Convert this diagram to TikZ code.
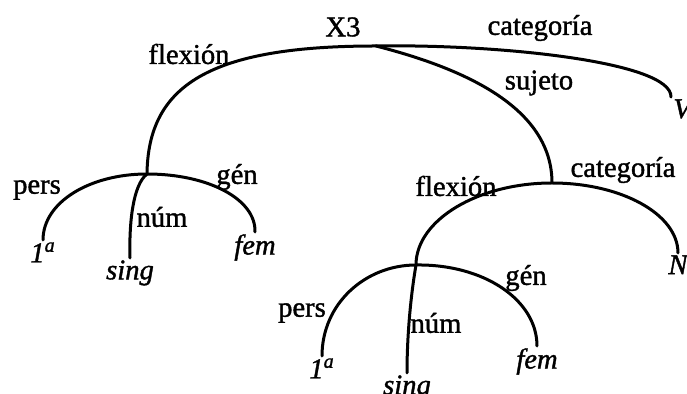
\documentclass[tikz,border=0pt]{standalone}
\usepackage{fontspec}
\setmainfont{Liberation Serif}[
  BoldFont={Liberation Serif}, BoldFeatures={FakeBold=1.3},
  BoldItalicFont={Liberation Serif Italic}, BoldItalicFeatures={FakeBold=1.3}]
\usepackage{tikz}
\usetikzlibrary{positioning}
\tikzstyle{feat} = [inner sep=1pt, font=\fontsize{14.3}{16}\selectfont\bfseries]
\tikzstyle{val} = [inner sep=1pt, font=\fontsize{14.3}{16}\selectfont\bfseries\itshape]
\tikzstyle{branch} = [draw, line width=1.5pt, line cap=round]

\begin{document}
\begin{tikzpicture}[x=0.5pt, y=-0.5pt]
    \useasboundingbox (0,0) rectangle (687,394);
    % Branch points
    \coordinate (top) at (376,46);
    \coordinate (flexA) at (147,174);
    \coordinate (subj) at (552,183);
    \coordinate (flexB) at (416,265);

    % Feature labels
    \node [feat] (x3) at (343,27) {X3};
    \node [feat] (flexAlab) at (189,54) {flexión};
    \node [feat] (catAlab) at (540,28) {categoría};
    \node [feat] (subjlab) at (539,83) {sujeto};
    \node [feat] (persAlab) at (37,190) {pers};
    \node [feat] (numAlab) at (162,217) {núm};
    \node [feat] (genAlab) at (237,177) {gén};
    \node [feat] (flexBlab) at (456,186) {flexión};
    \node [feat] (catBlab) at (623,170) {categoría};
    \node [feat] (persBlab) at (302,313) {pers};
    \node [feat] (numBlab) at (436,323) {núm};
    \node [feat] (genBlab) at (526,278) {gén};

    % Values
    \node [val, anchor=north west] (vcat) at (671,97) {V};
    \node [val, anchor=north] (ncat) at (678,253) {N};
    \node [val, anchor=north] (persA) at (43,240) {1\textsuperscript{a}};
    \node [val, anchor=north] (numA) at (130,258) {sing};
    \node [val, anchor=north] (genA) at (255,232) {fem};
    \node [val, anchor=north] (persB) at (322,356) {1\textsuperscript{a}};
    \node [val, anchor=north] (numB) at (407,373) {sing};
    \node [val, anchor=north] (genB) at (537,346) {fem};

    % Branches
    \path [branch] (flexA) .. controls (148,85) and (210,46) .. (top);
    \path [branch] (top) .. controls (500,44) and (672,62) .. (vcat.north west);
    \path [branch] (top) .. controls (470,70) and (552,110) .. (subj);
    \path [branch] (subj) .. controls (621,183) and (678,214) .. (ncat.north);
    \path [branch] (subj) .. controls (478,183) and (416,220) .. (flexB);
    \path [branch] (flexA) .. controls (90,174) and (43,202) .. (persA.north);
    \path [branch] (flexA) .. controls (133,185) and (129,222) .. (numA.north);
    \path [branch] (flexA) .. controls (208,174) and (256,199) .. (genA.north);
    \path [branch] (flexB) .. controls (365,265) and (322,304) .. (persB.north);
    \path [branch] (flexB) .. controls (410,300) and (407,340) .. (numB.north);
    \path [branch] (flexB) .. controls (484,264) and (537,300) .. (genB.north);
\end{tikzpicture}
\end{document}
